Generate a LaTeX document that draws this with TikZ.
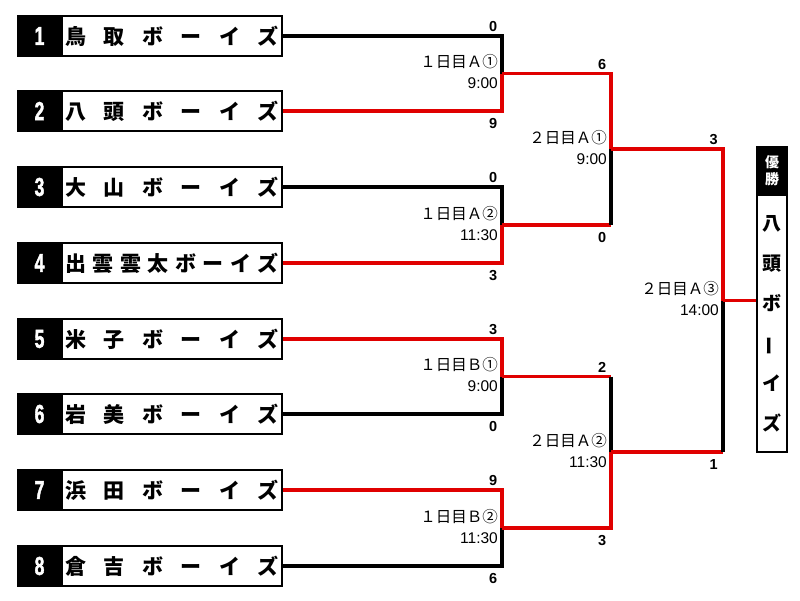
\documentclass[tikz,border=0pt]{standalone}
\usepackage{fontspec}
\usepackage{graphicx}
\setmainfont{Liberation Sans}
\newfontfamily\cjk{Noto Sans CJK JP}
\newfontfamily\numfont{Liberation Sans Bold}[FakeBold=2]
\definecolor{rd}{HTML}{E00000}
\newcommand\tname[1]{\makebox[214pt]{#1}}
\newcommand\digit[1]{\scalebox{0.68}[1]{#1}}
\begin{document}
\begin{tikzpicture}[x=1pt,y=-1pt,
 blk/.style={line width=3.5pt, draw=black},
 win/.style={line width=3.5pt, draw=rd},
 numbox/.style={fill=black, draw=black, line width=1.5pt, minimum width=44pt, minimum height=40pt, inner sep=0pt, text=white, font=\numfont\fontsize{26}{26}\selectfont},
 namebox/.style={draw=black, fill=white, line width=2.5pt, minimum width=220pt, minimum height=40pt, inner sep=0pt, font=\cjk\bfseries\fontsize{21}{21}\selectfont},
 score/.style={font=\fontsize{14.5}{14.5}\selectfont\bfseries, inner sep=0pt},
 game/.style={font=\cjk\fontsize{15.5}{15.5}\selectfont, inner sep=0pt},
 gtime/.style={font=\fontsize{15.5}{15.5}\selectfont, inner sep=0pt},
]
\useasboundingbox[fill=white] (0,0) rectangle (800,600);

% teams
\node[numbox] (b1) at (39.5,36) {\digit{1}};
\node[namebox] (n1) at (172,36) {\tname{鳥\hfill 取\hfill ボ\hfill ー\hfill イ\hfill ズ}};
\node[numbox] (b2) at (39.5,111) {\digit{2}};
\node[namebox] (n2) at (172,111) {\tname{八\hfill 頭\hfill ボ\hfill ー\hfill イ\hfill ズ}};
\node[numbox] (b3) at (39.5,187) {\digit{3}};
\node[namebox] (n3) at (172,187) {\tname{大\hfill 山\hfill ボ\hfill ー\hfill イ\hfill ズ}};
\node[numbox] (b4) at (39.5,263) {\digit{4}};
\node[namebox] (n4) at (172,263) {\tname{出\hfill 雲\hfill 雲\hfill 太\hfill ボ\hfill ー\hfill イ\hfill ズ}};
\node[numbox] (b5) at (39.5,339) {\digit{5}};
\node[namebox] (n5) at (172,339) {\tname{米\hfill 子\hfill ボ\hfill ー\hfill イ\hfill ズ}};
\node[numbox] (b6) at (39.5,414) {\digit{6}};
\node[namebox] (n6) at (172,414) {\tname{岩\hfill 美\hfill ボ\hfill ー\hfill イ\hfill ズ}};
\node[numbox] (b7) at (39.5,490) {\digit{7}};
\node[namebox] (n7) at (172,490) {\tname{浜\hfill 田\hfill ボ\hfill ー\hfill イ\hfill ズ}};
\node[numbox] (b8) at (39.5,566) {\digit{8}};
\node[namebox] (n8) at (172,566) {\tname{倉\hfill 吉\hfill ボ\hfill ー\hfill イ\hfill ズ}};

% champion
\node[fill=black, draw=black, line width=2pt, minimum width=30pt, minimum height=48pt, inner sep=0pt, text=white, align=center, font=\cjk\bfseries\fontsize{14}{17}\selectfont] (ct) at (772,171) {優\\勝};
\node[draw=black, fill=white, line width=2.5pt, minimum width=30pt, minimum height=257pt, inner sep=0pt, align=center, font=\cjk\bfseries\fontsize{19}{40}\selectfont] (cn) at (772,323.5) {八\\頭\\ボ\\\rotatebox[origin=c]{90}{ー}\\イ\\ズ};

% round 1 coordinates
\coordinate (c1a) at (502,36);  \coordinate (c1b) at (502,111); \coordinate (j1) at (502,73.5);
\coordinate (c2a) at (502,187); \coordinate (c2b) at (502,263); \coordinate (j2) at (502,225);
\coordinate (c3a) at (502,339); \coordinate (c3b) at (502,414); \coordinate (j3) at (502,376.5);
\coordinate (c4a) at (502,490); \coordinate (c4b) at (502,566); \coordinate (j4) at (502,528);
% round 2
\coordinate (k1a) at (611,73.5); \coordinate (k1b) at (611,225); \coordinate (m1) at (611,149);
\coordinate (k2a) at (611,376.5); \coordinate (k2b) at (611,528); \coordinate (m2) at (611,452);
% final
\coordinate (fa) at (723,149); \coordinate (fb) at (723,452); \coordinate (fj) at (723,300.5);

% round 1 lines
\draw[blk] (n1.east) -- (c1a) -- (j1);
\draw[win] (n2.east) -- (c1b) -- (j1);
\draw[blk] (n3.east) -- (c2a) -- (j2);
\draw[win] (n4.east) -- (c2b) -- (j2);
\draw[win] (n5.east) -- (c3a) -- (j3);
\draw[blk] (n6.east) -- (c3b) -- (j3);
\draw[win] (n7.east) -- (c4a) -- (j4);
\draw[blk] (n8.east) -- (c4b) -- (j4);
% round 2 lines
\draw[win] (j1) -- (k1a) -- (m1);
\draw[win] (j2) -- (k1b);
\draw[blk] (k1b) -- (m1);
\draw[win] (j3) -- (k2a);
\draw[blk] (k2a) -- (m2);
\draw[win] (j4) -- (k2b) -- (m2);
% final lines
\draw[win] (m1) -- (fa) -- (fj);
\draw[win] (m2) -- (fb);
\draw[blk] (fb) -- (fj);
\draw[win] (fj) -- (fj -| cn.west);

% scores
\node[score, anchor=south east] (s1) at ([xshift=-4.5pt,yshift=4pt]c1a) {0};
\node[score, anchor=north east] (s2) at ([xshift=-4.5pt,yshift=-7pt]c1b) {9};
\node[score, anchor=south east] (s3) at ([xshift=-4.5pt,yshift=4pt]c2a) {0};
\node[score, anchor=north east] (s4) at ([xshift=-4.5pt,yshift=-7pt]c2b) {3};
\node[score, anchor=south east] (s5) at ([xshift=-4.5pt,yshift=4pt]c3a) {3};
\node[score, anchor=north east] (s6) at ([xshift=-4.5pt,yshift=-7pt]c3b) {0};
\node[score, anchor=south east] (s7) at ([xshift=-4.5pt,yshift=4pt]c4a) {9};
\node[score, anchor=north east] (s8) at ([xshift=-4.5pt,yshift=-7pt]c4b) {6};
\node[score, anchor=south east] (t1) at ([xshift=-4.5pt,yshift=4pt]k1a) {6};
\node[score, anchor=north east] (t2) at ([xshift=-4.5pt,yshift=-7pt]k1b) {0};
\node[score, anchor=south east] (t3) at ([xshift=-4.5pt,yshift=4pt]k2a) {2};
\node[score, anchor=north east] (t4) at ([xshift=-4.5pt,yshift=-7pt]k2b) {3};
\node[score, anchor=south east] (u1) at ([xshift=-5pt,yshift=4pt]fa) {3};
\node[score, anchor=north east] (u2) at ([xshift=-5pt,yshift=-7pt]fb) {1};

% game labels
\node[game, anchor=south east] (g1) at ([xshift=-4pt,yshift=4pt]j1) {１日目Ａ①};
\node[gtime, anchor=north east] (h1) at ([xshift=-4pt,yshift=-4pt]j1) {9:00};
\node[game, anchor=south east] (g2) at ([xshift=-4pt,yshift=4pt]j2) {１日目Ａ②};
\node[gtime, anchor=north east] (h2) at ([xshift=-4pt,yshift=-4pt]j2) {11:30};
\node[game, anchor=south east] (g3) at ([xshift=-4pt,yshift=4pt]j3) {１日目Ｂ①};
\node[gtime, anchor=north east] (h3) at ([xshift=-4pt,yshift=-4pt]j3) {9:00};
\node[game, anchor=south east] (g4) at ([xshift=-4pt,yshift=4pt]j4) {１日目Ｂ②};
\node[gtime, anchor=north east] (h4) at ([xshift=-4pt,yshift=-4pt]j4) {11:30};
\node[game, anchor=south east] (g5) at ([xshift=-4pt,yshift=4pt]m1) {２日目Ａ①};
\node[gtime, anchor=north east] (h5) at ([xshift=-4pt,yshift=-4pt]m1) {9:00};
\node[game, anchor=south east] (g6) at ([xshift=-4pt,yshift=4pt]m2) {２日目Ａ②};
\node[gtime, anchor=north east] (h6) at ([xshift=-4pt,yshift=-4pt]m2) {11:30};
\node[game, anchor=south east] (g7) at ([xshift=-4pt,yshift=4pt]fj) {２日目Ａ③};
\node[gtime, anchor=north east] (h7) at ([xshift=-4pt,yshift=-4pt]fj) {14:00};
\end{tikzpicture}
\end{document}
